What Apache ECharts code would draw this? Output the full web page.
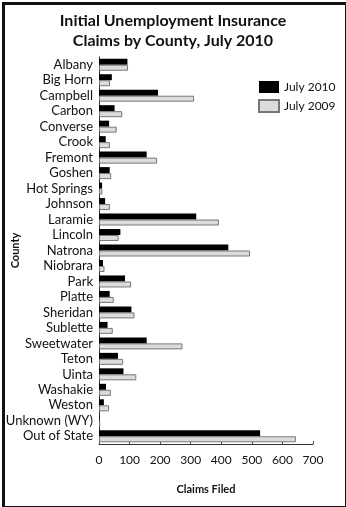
<!DOCTYPE html>
<html>
<head>
<meta charset="utf-8">
<script src="https://cdn.jsdelivr.net/npm/echarts@6/dist/echarts.min.js"></script>
<style>
  html, body { margin: 0; padding: 0; background: #fff; }
  #chart { width: 346px; height: 507px; }
</style>
</head>
<body>
<div id="chart"></div>
<script>
// Wyoming initial unemployment insurance claims by county
const counties = [
  'Albany', 'Big Horn', 'Campbell', 'Carbon', 'Converse', 'Crook', 'Fremont',
  'Goshen', 'Hot Springs', 'Johnson', 'Laramie', 'Lincoln', 'Natrona',
  'Niobrara', 'Park', 'Platte', 'Sheridan', 'Sublette', 'Sweetwater', 'Teton',
  'Uinta', 'Washakie', 'Weston', 'Unknown (WY)', 'Out of State'
];
const july2010 = [93, 42, 193, 51, 33, 22, 156, 35, 10, 20, 318, 70, 423,
  13, 85, 35, 106, 28, 156, 62, 80, 23, 16, 1, 527];
const july2009 = [95, 36, 311, 76, 58, 36, 190, 40, 11, 36, 392, 64, 494,
  18, 105, 48, 116, 45, 273, 79, 122, 39, 33, 4, 644];
const xTicks = [0, 100, 200, 300, 400, 500, 600, 700];

const FONT = 'Lato';
const chart = echarts.init(document.getElementById('chart'), null, { renderer: 'canvas' });

chart.setOption({
  animation: false,
  backgroundColor: '#fff',
  title: {
    text: 'Initial Unemployment Insurance\nClaims by County, July 2010',
    left: 'center',
    top: 6,
    textStyle: { fontFamily: FONT, fontWeight: 'bold', fontSize: 16, lineHeight: 20, color: '#111' }
  },
  legend: {
    orient: 'vertical',
    left: 253,
    top: 76,
    itemWidth: 20,
    itemHeight: 12,
    itemGap: 6,
    icon: 'rect',
    textStyle: { fontFamily: FONT, fontSize: 12, color: '#111' },
    data: ['July 2010', 'July 2009']
  },
  grid: { left: 99, right: 33, top: 57, bottom: 63, containLabel: false, outerBoundsMode: 'none' },
  xAxis: {
    type: 'value',
    min: xTicks[0],
    max: xTicks[xTicks.length - 1],
    interval: 100,
    name: 'Claims Filed',
    nameLocation: 'middle',
    nameGap: 40,
    nameMoveOverlap: false,
    nameTextStyle: { fontFamily: FONT, fontWeight: 'bold', fontSize: 11, color: '#111' },
    axisLine: { show: true, lineStyle: { color: '#333', width: 1 } },
    axisTick: { show: true, inside: true, length: 3, lineStyle: { color: '#555' } },
    axisLabel: { fontFamily: FONT, fontSize: 12, color: '#111', margin: 10 },
    splitLine: { show: false }
  },
  yAxis: {
    type: 'category',
    data: counties,
    inverse: true,
    name: 'County',
    nameLocation: 'middle',
    nameGap: 78,
    nameMoveOverlap: false,
    nameTextStyle: { fontFamily: FONT, fontWeight: 'bold', fontSize: 11, color: '#111' },
    axisLine: { show: true, lineStyle: { color: '#333', width: 1 } },
    axisTick: { show: false },
    axisLabel: { fontFamily: FONT, fontSize: 13, color: '#111', margin: 6, interval: 0 }
  },
  series: [
    {
      name: 'July 2010',
      type: 'bar',
      data: july2010,
      barWidth: 6,
      barGap: '0%',
      itemStyle: { color: '#000', borderColor: '#000', borderWidth: 0 }
    },
    {
      name: 'July 2009',
      type: 'bar',
      data: july2009,
      barWidth: 6,
      barGap: '0%',
      itemStyle: { color: '#dcdcdc', borderColor: '#777', borderWidth: 1 }
    }
  ],
  graphic: [
    {
      type: 'rect',
      left: 1, top: 1,
      shape: { width: 343, height: 504 },
      style: { fill: 'none', stroke: '#111', lineWidth: 3 },
      silent: true
    }
  ]
});
</script>
</body>
</html>
